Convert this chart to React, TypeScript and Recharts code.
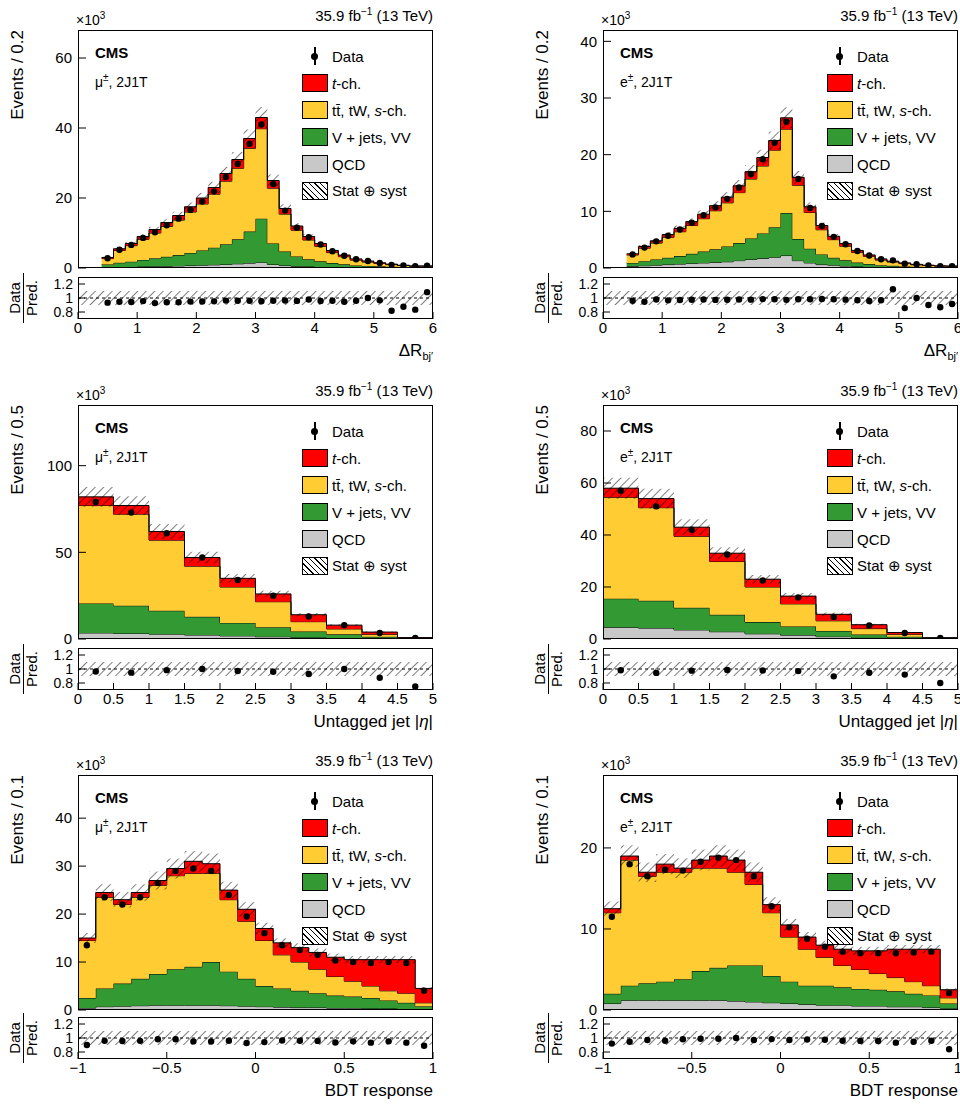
import React from "react";
import { Area, ComposedChart, ReferenceLine, Scatter, XAxis, YAxis } from "recharts";

// ---- ΔR_bj' (bins of 0.2 from 0.4) ----
const drEdges0 = 0.4;
const drMuQcd = [0.2,0.3,0.3,0.4,0.5,0.5,0.6,0.7,0.8,0.9,1.0,1.2,1.4,1.6,1.0,0.7,0.5,0.4,0.3,0.2,0.15,0.1,0.1,0.08,0.05,0.04,0.03,0.03];
const drMuVj = [0.8,1.2,1.5,1.9,2.3,2.7,3.1,3.6,4.2,4.9,5.8,7.0,9.0,12.5,6.0,4.0,2.8,2.1,1.6,1.2,0.9,0.6,0.5,0.4,0.3,0.2,0.15,0.15];
const drMuTt = [1.7,3.5,4.6,5.9,7.2,8.7,10,11.7,13.3,15.3,18,20.3,23.8,25.7,15.8,10.7,7.5,5.5,4.3,3.0,2.2,1.55,1.1,0.82,0.6,0.44,0.32,0.32];
const drMuTch = [0.3,0.5,0.6,0.8,1.0,1.1,1.3,1.5,1.7,1.9,2.2,2.5,2.8,3.2,2.2,1.6,1.2,1.0,0.8,0.6,0.45,0.35,0.3,0.2,0.15,0.12,0.1,0.1];
const drMuData = [2.8,5.2,6.6,8.6,10.2,12.2,14.1,16.6,19.0,21.9,26.0,29.8,35.5,41.0,24.0,16.4,11.5,8.8,6.7,4.8,3.5,2.5,2.0,1.45,0.9,0.7,0.5,0.65];

const drElQcd = [0.3,0.4,0.5,0.6,0.7,0.8,0.9,1.0,1.1,1.3,1.5,1.7,1.9,2.2,1.3,0.9,0.6,0.5,0.35,0.25,0.2,0.15,0.1,0.08,0.06,0.05,0.04,0.04];
const drElVj = [0.6,0.8,1.0,1.2,1.4,1.7,2.0,2.3,2.7,3.1,3.7,4.4,5.3,7.5,3.8,2.5,1.8,1.3,1.0,0.7,0.5,0.35,0.28,0.2,0.15,0.1,0.08,0.08];
const drElTt = [1.4,2.3,2.9,3.6,4.3,5.0,5.8,6.8,7.7,8.9,10.5,11.9,13.6,14.8,9.5,6.4,4.35,3.2,2.5,1.8,1.35,0.9,0.67,0.5,0.35,0.28,0.21,0.18];
const drElTch = [0.2,0.3,0.4,0.5,0.6,0.7,0.8,0.9,1.0,1.2,1.3,1.5,1.7,2.0,1.4,1.0,0.75,0.6,0.45,0.35,0.25,0.2,0.15,0.12,0.09,0.07,0.05,0.05];
const drElData = [2.4,3.6,4.7,5.7,6.8,8.0,9.3,10.7,12.2,14.2,16.6,19.2,22.1,25.8,15.7,10.6,7.4,5.5,4.2,3.0,2.2,1.55,1.35,0.77,0.65,0.45,0.33,0.32];

// ---- untagged jet |eta| (bins of 0.5) ----
const etaMuQcd = [3.5,3.2,2.8,2.3,1.8,1.3,0.8,0.5,0.25,0.05];
const etaMuVj = [17,16,13.5,10.5,7.5,5.5,3.5,2.2,1.0,0.2];
const etaMuTt = [56.5,52.8,40.7,29.2,20.7,14.7,5.7,3.1,1.45,0.3];
const etaMuTch = [5,5,5,5,5,4.5,4,2.2,1.3,0.25];
const etaMuData = [79,73,61,47,34,25,13,8,3.5,0.6];

const etaElQcd = [4.5,4.2,3.5,2.8,2.0,1.5,0.9,0.5,0.25,0.05];
const etaElVj = [11,10.5,8.5,6.5,4.5,3.3,2.2,1.2,0.6,0.1];
const etaElTt = [39,35.8,27.5,20.5,13.5,8.7,3.9,2.3,0.95,0.2];
const etaElTch = [3.5,3.5,3.5,3.2,3.0,3.0,2.5,1.5,0.7,0.15];
const etaElData = [57,51,42,32.5,22.5,16,8.5,5.2,2.3,0.4];

// ---- BDT response (bins of 0.1) ----
const bdtMuQcd = [0.4,0.7,0.8,0.9,1.0,1.0,1.0,1.0,0.9,0.8,0.7,0.6,0.5,0.5,0.4,0.4,0.3,0.3,0.2,0.1];
const bdtMuVj = [2.1,3.8,4.7,5.6,6.5,7.5,8,9,7.1,5.7,4.3,3.9,3.5,3.0,2.6,2.4,2.2,1.7,1.3,0.7];
const bdtMuTt = [12,19,16.5,17,18.5,19.5,19.5,18.5,15,12,9.5,7,6,5,4,3.2,2.5,2,2,0.7];
const bdtMuTch = [0.5,1,1,1,1,1.5,2.5,2,2,2.5,2.5,2.5,3,3.5,4,4.5,5.5,6.5,7,3];
const bdtMuData = [13.5,23.5,22,23.5,26.5,29,29.5,29,24,19.5,16,13.5,12.5,11.5,10.3,10,9.8,10,9.8,4];

const bdtElQcd = [0.8,1.2,1.2,1.2,1.2,1.2,1.2,1.1,1.0,0.9,0.8,0.7,0.6,0.6,0.5,0.5,0.4,0.4,0.3,0.2];
const bdtElVj = [1.2,1.8,2.1,2.3,2.6,3.6,4,4.4,4.5,3.3,2.7,2.3,2.4,2.2,2.1,2,1.9,1.6,1.5,0.6];
const bdtElTt = [10,15.5,13.2,13.5,13.2,12.7,12.3,11.5,10,7.8,5.5,4.5,3.5,2.7,2.4,2,1.7,1.5,1.2,0.7];
const bdtElTch = [0.5,0.5,0.5,1,0.5,1,1.5,1.5,1.5,1,1.5,1.5,1.5,2,2.3,2.8,3.5,4,4.5,1];
const bdtElData = [11.5,18,16.5,17.3,17.2,18.3,18.8,18.5,16.5,12.8,10.2,8.8,7.8,7.2,7,7,7,7.1,7.2,2.1];

const legendLabels = ["Data", "t-ch.", "tt̄, tW, s-ch.", "V + jets, VV", "QCD", "Stat ⊕ syst"];
const ratioTicks = [0.8, 1, 1.2];

const RED = "#ff0000";
const YEL = "#ffcc33";
const GRN = "#339933";
const GRY = "#c8c8c8";
const FONT = "'Liberation Sans', Arial, sans-serif";

type PanelProps = {
  id: string;
  left: number; top: number; height: number; ratioTop: number;
  start: number; width: number;
  qcd: number[]; vj: number[]; tt: number[]; tch: number[]; data: number[];
  xDomain: [number, number]; xTicks: number[]; xFmt: (v: number) => string;
  yMax: number; yTicks: number[];
  yLabel: string; xLabel: React.ReactNode; lepton: string;
};

const PW = 355;
const M = 10;

function Panel(p: PanelProps) {
  const pts = p.qcd.map((_, i) => {
    const tot = p.qcd[i] + p.vj[i] + p.tt[i] + p.tch[i];
    return { x: p.start + i * p.width, qcd: p.qcd[i], vj: p.vj[i], tt: p.tt[i], tch: p.tch[i], band: [tot * 0.93, tot * 1.07] };
  });
  pts.push({ ...pts[pts.length - 1], x: p.start + p.qcd.length * p.width });
  const dots = p.data.map((d, i) => ({ x: p.start + (i + 0.5) * p.width, y: d }));
  const ratio = p.data.map((d, i) => ({ x: p.start + (i + 0.5) * p.width, y: d / (p.qcd[i] + p.vj[i] + p.tt[i] + p.tch[i]) }));
  const bandR = [{ x: p.xDomain[0], band: [0.9, 1.1] }, { x: p.xDomain[1], band: [0.9, 1.1] }];
  const L = p.left + 78;
  const T = p.top;
  const RH = 42;
  const hatch = (
    <defs>
      <pattern id={"h" + p.id} width="6" height="6" patternUnits="userSpaceOnUse" patternTransform="rotate(45)">
        <line x1="0" y1="0" x2="0" y2="6" stroke="#000" strokeWidth="1" />
      </pattern>
    </defs>
  );
  const dot = (props: any) => <circle cx={props.cx} cy={props.cy} r={3.2} fill="#000" />;
  const txt: React.CSSProperties = { position: "absolute", fontFamily: FONT, fontSize: 15, whiteSpace: "nowrap", color: "#000" };
  const swatches = [null, RED, YEL, GRN, GRY, "hatch"];
  const tickStyle = { fontSize: 15, fill: "#000", fontFamily: FONT };
  return (
    <>
      <div style={{ position: "absolute", left: p.left, top: T - M }}>
        <ComposedChart width={PW + 90} height={p.height + 2 * M} data={pts} margin={{ top: M, right: 12, bottom: M, left: 20 }}>
          {hatch}
          <XAxis dataKey="x" type="number" domain={p.xDomain} hide allowDataOverflow />
          <YAxis type="number" domain={[0, p.yMax]} ticks={p.yTicks} interval={0} width={58} tickSize={-8} tickMargin={14}
            axisLine={false} tick={tickStyle} tickLine={{ stroke: "#000" }} allowDataOverflow />
          <Area type="stepAfter" dataKey="qcd" stackId="s" fill={GRY} fillOpacity={1} stroke="#000" strokeWidth={1} isAnimationActive={false} />
          <Area type="stepAfter" dataKey="vj" stackId="s" fill={GRN} fillOpacity={1} stroke="#000" strokeWidth={1} isAnimationActive={false} />
          <Area type="stepAfter" dataKey="tt" stackId="s" fill={YEL} fillOpacity={1} stroke="#000" strokeWidth={1} isAnimationActive={false} />
          <Area type="stepAfter" dataKey="tch" stackId="s" fill={RED} fillOpacity={1} stroke="#000" strokeWidth={1} isAnimationActive={false} />
          <Area type="stepAfter" dataKey="band" fill={`url(#h${p.id})`} fillOpacity={1} stroke="none" isAnimationActive={false} />
          <Scatter data={dots} dataKey="y" shape={dot} isAnimationActive={false} />
        </ComposedChart>
      </div>
      <div style={{ position: "absolute", left: L, top: T, width: PW, height: p.height, border: "1px solid #000", boxSizing: "border-box", pointerEvents: "none" }} />
      <div style={{ position: "absolute", left: p.left, top: p.ratioTop - M }}>
        <ComposedChart width={PW + 90} height={RH + 22 + 2 * M} data={bandR} margin={{ top: M, right: 12, bottom: M, left: 20 }}>
          {hatch}
          <XAxis dataKey="x" type="number" domain={p.xDomain} ticks={p.xTicks} interval={0} tickFormatter={p.xFmt} height={22} tickSize={-7} tickMargin={10}
            axisLine={false} tick={tickStyle} tickLine={{ stroke: "#000" }} allowDataOverflow />
          <YAxis type="number" domain={[0.7, 1.3]} ticks={ratioTicks} interval={0} width={58} tickSize={-7} tickMargin={12}
            axisLine={false} tick={{ ...tickStyle, fontSize: 14 }} tickLine={{ stroke: "#000" }} allowDataOverflow />
          <Area type="linear" dataKey="band" fill={`url(#h${p.id})`} fillOpacity={1} stroke="none" isAnimationActive={false} />
          <ReferenceLine y={1} stroke="#000" strokeDasharray="3 3" />
          <Scatter data={ratio} dataKey="y" shape={dot} isAnimationActive={false} />
        </ComposedChart>
      </div>
      <div style={{ position: "absolute", left: L, top: p.ratioTop, width: PW, height: RH, border: "1px solid #000", boxSizing: "border-box", pointerEvents: "none" }} />
      <div style={{ ...txt, left: L - 2, top: T - 20, fontSize: 14 }}>×10<sup style={{ fontSize: 10 }}>3</sup></div>
      <div style={{ ...txt, left: L + PW - 200, width: 200, textAlign: "right", top: T - 24 }}>35.9 fb<sup style={{ fontSize: 10 }}>−1</sup> (13 TeV)</div>
      <div style={{ ...txt, left: L + 17, top: T + 14, fontWeight: "bold" }}>CMS</div>
      <div style={{ ...txt, left: L + 17, top: T + 42, fontSize: 14 }}>{p.lepton}<sup style={{ fontSize: 10 }}>±</sup>, 2J1T</div>
      <div style={{ ...txt, left: p.left + 8, top: T, transformOrigin: "left top", transform: "rotate(-90deg) translate(-140px, 0)", width: 140, textAlign: "right", fontSize: 17 }}>{p.yLabel}</div>
      <div style={{ ...txt, left: p.left + 7, top: p.ratioTop + RH / 2, transformOrigin: "left top", transform: "rotate(-90deg) translate(-50%, 0)", width: 50, fontSize: 15, lineHeight: "16px", textAlign: "center" }}>
        <div style={{ borderBottom: "1px solid #000" }}>Data</div><div>Pred.</div>
      </div>
      <div style={{ ...txt, left: L + PW - 250, width: 250, textAlign: "right", top: p.ratioTop + RH + 22, fontSize: 17 }}>{p.xLabel}</div>
      {legendLabels.map((lab, i) => {
        const y = T + 16 + i * 27;
        const sw = swatches[i];
        return (
          <div key={lab} style={{ ...txt, left: L + 224, top: y, height: 20, display: "flex", alignItems: "center" }}>
            <div style={{ width: 26, height: 18, marginRight: 4, position: "relative", boxSizing: "border-box",
              border: sw ? "1px solid #000" : "none", background: sw === "hatch" ? "repeating-linear-gradient(45deg, #fff 0 3px, #000 3px 4px)" : sw || "transparent" }}>
              {!sw && <><div style={{ position: "absolute", left: 12, top: 0, width: 1.5, height: 18, background: "#000" }} />
                <div style={{ position: "absolute", left: 9, top: 5.5, width: 7, height: 7, borderRadius: 4, background: "#000" }} /></>}
            </div>
            {i === 1 ? <span><i>t</i>-ch.</span> : i === 2 ? <span>tt̄, tW, <i>s</i>-ch.</span> : lab}
          </div>
        );
      })}
    </>
  );
}

const fmtNum = (v: number) => (v < 0 ? "−" + Math.abs(v) : String(v));
const drTicks = [0, 1, 2, 3, 4, 5, 6];
const etaTicks = [0, 0.5, 1, 1.5, 2, 2.5, 3, 3.5, 4, 4.5, 5];
const bdtTicks = [-1, -0.5, 0, 0.5, 1];

export default function App() {
  const dr = <span>ΔR<sub style={{ fontSize: 11 }}>bj′</sub></span>;
  const eta = <span>Untagged jet |<i>η</i>|</span>;
  const rows = [
    { top: 30, height: 238, ratioTop: 277 },
    { top: 405, height: 234, ratioTop: 648 },
    { top: 775, height: 235, ratioTop: 1017 },
  ];
  return (
    <div style={{ position: "absolute", left: 0, top: 0, width: 960, height: 1104, background: "#fff", overflow: "hidden" }}>
      <Panel id="a" left={0} {...rows[0]} start={drEdges0} width={0.2} qcd={drMuQcd} vj={drMuVj} tt={drMuTt} tch={drMuTch} data={drMuData}
        xDomain={[0, 6]} xTicks={drTicks} xFmt={fmtNum} yMax={68} yTicks={[0, 20, 40, 60]} yLabel="Events / 0.2" xLabel={dr} lepton="μ" />
      <Panel id="b" left={525} {...rows[0]} start={drEdges0} width={0.2} qcd={drElQcd} vj={drElVj} tt={drElTt} tch={drElTch} data={drElData}
        xDomain={[0, 6]} xTicks={drTicks} xFmt={fmtNum} yMax={42} yTicks={[0, 10, 20, 30, 40]} yLabel="Events / 0.2" xLabel={dr} lepton="e" />
      <Panel id="c" left={0} {...rows[1]} start={0} width={0.5} qcd={etaMuQcd} vj={etaMuVj} tt={etaMuTt} tch={etaMuTch} data={etaMuData}
        xDomain={[0, 5]} xTicks={etaTicks} xFmt={fmtNum} yMax={135} yTicks={[0, 50, 100]} yLabel="Events / 0.5" xLabel={eta} lepton="μ" />
      <Panel id="d" left={525} {...rows[1]} start={0} width={0.5} qcd={etaElQcd} vj={etaElVj} tt={etaElTt} tch={etaElTch} data={etaElData}
        xDomain={[0, 5]} xTicks={etaTicks} xFmt={fmtNum} yMax={90} yTicks={[0, 20, 40, 60, 80]} yLabel="Events / 0.5" xLabel={eta} lepton="e" />
      <Panel id="e" left={0} {...rows[2]} start={-1} width={0.1} qcd={bdtMuQcd} vj={bdtMuVj} tt={bdtMuTt} tch={bdtMuTch} data={bdtMuData}
        xDomain={[-1, 1]} xTicks={bdtTicks} xFmt={fmtNum} yMax={49} yTicks={[0, 10, 20, 30, 40]} yLabel="Events / 0.1" xLabel="BDT response" lepton="μ" />
      <Panel id="f" left={525} {...rows[2]} start={-1} width={0.1} qcd={bdtElQcd} vj={bdtElVj} tt={bdtElTt} tch={bdtElTch} data={bdtElData}
        xDomain={[-1, 1]} xTicks={bdtTicks} xFmt={fmtNum} yMax={29} yTicks={[0, 10, 20]} yLabel="Events / 0.1" xLabel="BDT response" lepton="e" />
    </div>
  );
}
